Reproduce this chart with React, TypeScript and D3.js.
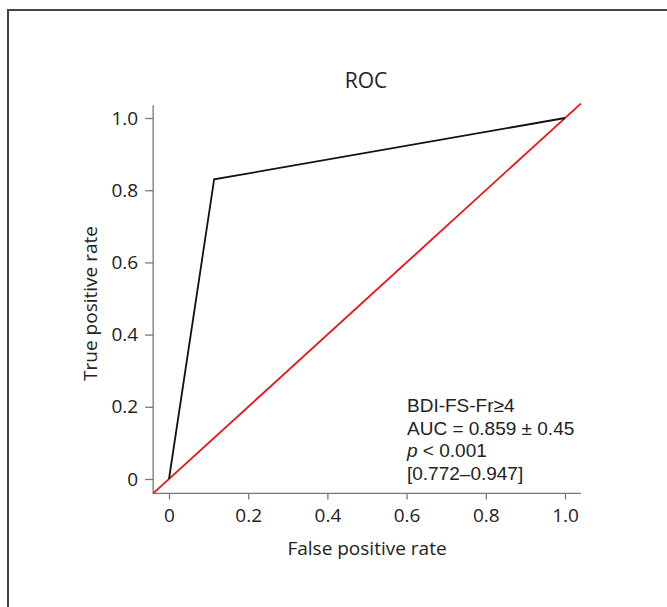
import React, { useEffect, useRef } from 'react';
import * as d3 from 'd3';

// ROC curve points (false positive rate, true positive rate)
const fpr = [0, 0.114, 1];
const tpr = [0, 0.83, 1];
// reference diagonal
const diagonal = [-0.04, 1.04];
const ticks = [0, 0.2, 0.4, 0.6, 0.8, 1.0];
const tickLabels = ['0', '0.2', '0.4', '0.6', '0.8', '1.0'];
const noteLines = ['BDI-FS-Fr≥4', 'AUC = 0.859 ± 0.45', 'p < 0.001', '[0.772–0.947]'];

const W = 667;
const H = 607;
const FONT = '"Open Sans", "Noto Sans", sans-serif';
// tighter line box so the stacked note lines don't collide
const NOTE_FONT = '"Liberation Sans", Arial, sans-serif';

const App = () => {
    const ref = useRef<SVGGElement>(null);

    useEffect(() => {
        const g = d3.select(ref.current);
        g.selectAll('*').remove();

        const x = d3.scaleLinear().domain([0, 1]).range([169, 565]);
        const y = d3.scaleLinear().domain([0, 1]).range([479, 118]);
        const fmt = (d: d3.NumberValue) => tickLabels[ticks.indexOf(+d)];

        // outer frame (cut off at right and bottom)
        g.append('rect')
            .attr('x', 8).attr('y', 10)
            .attr('width', 700).attr('height', 640)
            .attr('fill', 'none')
            .attr('stroke', '#444')
            .attr('stroke-width', 2);

        // axes
        const xAxis = g.append('g')
            .attr('transform', `translate(0,${y(-0.04)})`)
            .call(d3.axisBottom(x).tickValues(ticks).tickFormat(fmt).tickSizeOuter(0).tickSize(6));
        const yAxis = g.append('g')
            .attr('transform', `translate(${x(-0.04)},0)`)
            .call(d3.axisLeft(y).tickValues(ticks).tickFormat(fmt).tickSizeOuter(0).tickSize(8));

        xAxis.select('.domain').attr('d', `M${x(-0.04)},0H${x(1.04)}`);
        yAxis.select('.domain').attr('d', `M0,${y(1.035)}V${y(-0.04)}`);

        [xAxis, yAxis].forEach(a => {
            a.selectAll('.domain, line').attr('stroke', '#777').attr('stroke-width', 1.3);
            a.selectAll('text')
                .attr('fill', '#222')
                .style('font-family', FONT)
                .style('font-size', '19px');
        });
        xAxis.selectAll('text').attr('dy', '1.05em');
        yAxis.selectAll('text').attr('x', -15);

        // diagonal
        const line = d3.line<[number, number]>().x(d => x(d[0])).y(d => y(d[1]));
        g.append('path')
            .attr('d', line(diagonal.map(v => [v, v] as [number, number])))
            .attr('fill', 'none')
            .attr('stroke', '#e8141a')
            .attr('stroke-width', 1.8);

        // ROC curve
        g.append('path')
            .attr('d', line(fpr.map((v, i) => [v, tpr[i]] as [number, number])))
            .attr('fill', 'none')
            .attr('stroke', '#111')
            .attr('stroke-width', 1.8);

        // title and axis labels
        g.append('text')
            .attr('x', 366).attr('y', 88)
            .attr('text-anchor', 'middle')
            .attr('fill', '#222')
            .style('font-family', FONT).style('font-size', '21px')
            .text('ROC');
        g.append('text')
            .attr('x', 367).attr('y', 555)
            .attr('text-anchor', 'middle')
            .attr('fill', '#222')
            .style('font-family', FONT).style('font-size', '19px')
            .text('False positive rate');
        g.append('text')
            .attr('transform', `translate(97,${(y(0) + y(1)) / 2 + 5}) rotate(-90)`)
            .attr('text-anchor', 'middle')
            .attr('fill', '#222')
            .style('font-family', FONT).style('font-size', '19px')
            .text('True positive rate');

        // annotation
        noteLines.forEach((t, i) => {
            const txt = g.append('text')
                .attr('x', 407).attr('y', 412 + i * 22.5)
                .attr('fill', '#222')
                .style('font-family', NOTE_FONT).style('font-size', '19px');
            if (t.startsWith('p ')) {
                txt.append('tspan').style('font-style', 'italic').text('p');
                txt.append('tspan').text(t.slice(1));
            } else {
                txt.text(t);
            }
        });
    }, []);

    return (
        <svg width={W} height={H} style={{ position: 'absolute', left: 0, top: 0, background: '#fff' }}>
            <g ref={ref} />
        </svg>
    );
};

export default App;
